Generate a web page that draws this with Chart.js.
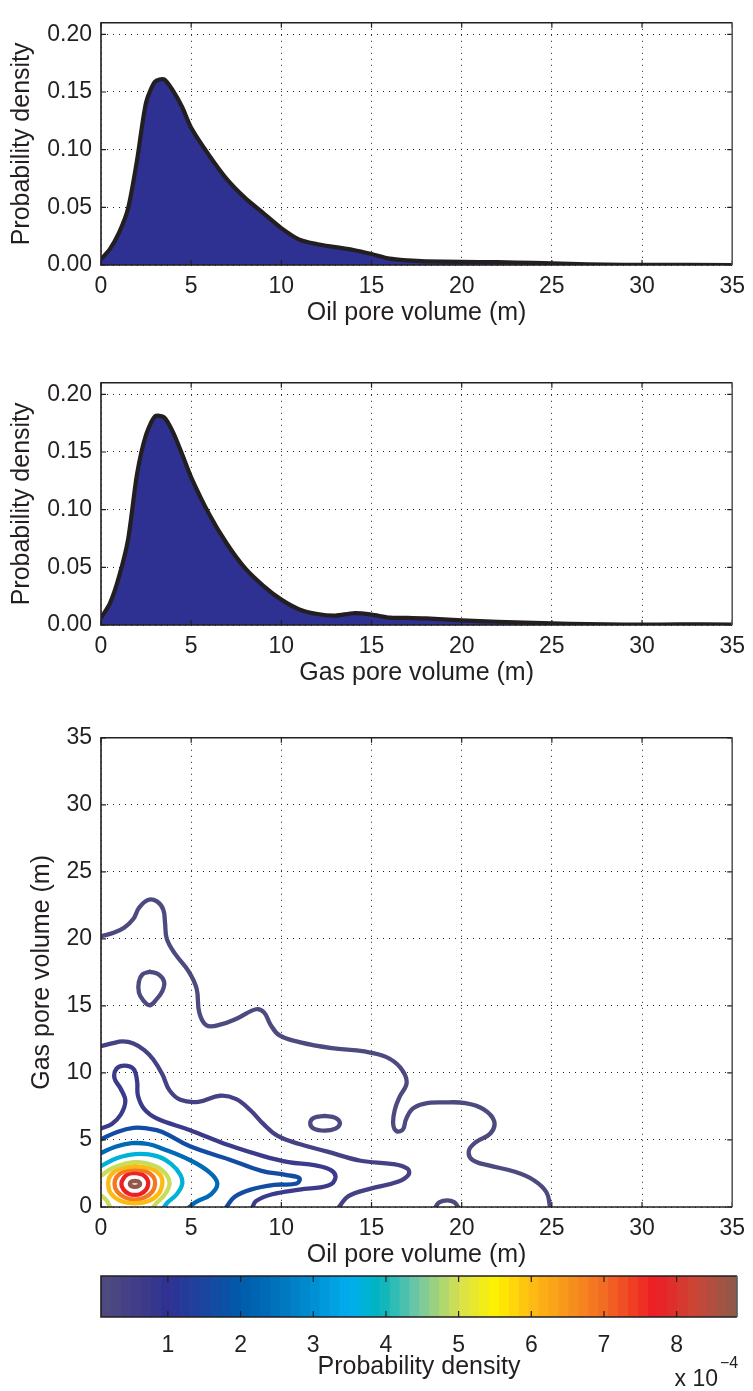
<!DOCTYPE html>
<html>
<head>
<meta charset="utf-8">
<script src="https://cdn.jsdelivr.net/npm/chart.js@4.4.0/dist/chart.umd.min.js"></script>
<style>
  html, body { margin: 0; padding: 0; background: #fff; }
  #page { position: relative; width: 753px; height: 1391px; overflow: hidden; }
  canvas { position: absolute; left: 0; }
</style>
</head>
<body>
<div id="page">
  <canvas id="oilChart" width="753" height="335" style="top:0px"></canvas>
  <canvas id="gasChart" width="753" height="335" style="top:360px"></canvas>
  <canvas id="jointChart" width="753" height="562" style="top:715px"></canvas>
  <canvas id="colorbar" width="753" height="126" style="top:1265px"></canvas>
</div>
<script>
// ---- marginal densities ----
var oilX = [0, 0.5, 1, 1.5, 2, 2.5, 3, 3.5, 4, 4.5, 5, 6, 7, 8, 9, 10, 11, 12, 13, 14, 15, 16, 17, 18, 20, 22, 24, 26, 28, 30, 35];
var oilDensity = [0.005, 0.014, 0.028, 0.049, 0.091, 0.141, 0.159, 0.161, 0.151, 0.137, 0.119, 0.095, 0.074, 0.058, 0.045, 0.032, 0.022, 0.018, 0.0155, 0.013, 0.0095, 0.0055, 0.004, 0.0032, 0.0027, 0.0025, 0.0018, 0.001, 0.0003, 0.0001, 0.0];

var gasX = [0, 0.5, 1, 1.5, 2, 2.5, 3, 3.5, 4, 4.5, 5, 6, 7, 8, 9, 10, 11, 12, 13, 14, 15, 16, 17, 18, 20, 22, 24, 26, 28, 30, 32, 35];
var gasDensity = [0.006, 0.019, 0.042, 0.074, 0.131, 0.165, 0.181, 0.180, 0.167, 0.148, 0.128, 0.096, 0.070, 0.049, 0.034, 0.022, 0.0135, 0.0095, 0.0081, 0.0102, 0.009, 0.0064, 0.0062, 0.0057, 0.004, 0.0028, 0.0019, 0.0011, 0.0005, 0.0003, 0.0006, 0.0004];

var poreTicks = [0, 5, 10, 15, 20, 25, 30, 35];
var densityTicks = [0, 0.05, 0.10, 0.15, 0.20];
var colorbarTicks = [1, 2, 3, 4, 5, 6, 7, 8];
var colorbarRange = [0.08, 8.83];   // x 10^-4

// ---- joint density contours: [oil, gas] points, level in x 10^-4 ----
var contourLevels = [0.2, 0.45, 0.75, 1.7, 2.4, 3.7, 5.0, 6.0, 6.8, 7.7, 8.8];

var level1Main = [[0,20.2],[0.7,20.45],[1.3,20.85],[1.8,21.5],[2.1,22.3],[2.6,22.9],[3.1,22.8],[3.45,22.2],[3.55,21.2],[3.65,20.0],[4.1,18.9],[4.85,17.6],[5.3,16.3],[5.45,14.5],[5.85,13.55],[6.6,13.6],[7.6,14.1],[8.6,14.75],[9.05,14.5],[9.4,13.6],[9.9,12.8],[11.0,12.3],[12.8,11.85],[14.6,11.6],[15.8,11.2],[16.6,10.4],[16.95,9.3],[16.55,8.2],[16.3,7.3],[16.2,6.2],[16.4,5.65],[16.75,5.8],[16.9,6.5],[17.25,7.3],[17.9,7.7],[19.0,7.8],[20.2,7.75],[21.2,7.3],[21.8,6.4],[21.6,5.5],[20.8,4.85],[20.4,4.2],[20.6,3.5],[21.5,3.1],[22.9,2.65],[24.0,2.0],[24.7,1.1],[24.9,0]];
var level1North = [[2.7,17.55],[3.2,17.35],[3.5,16.8],[3.4,16.1],[3.05,15.45],[2.7,15.05],[2.35,15.4],[2.1,16.0],[2.1,16.8],[2.3,17.35],[2.7,17.55]];
var level1East = [[12.4,6.8],[13.0,6.65],[13.25,6.25],[13.0,5.85],[12.4,5.7],[11.8,5.85],[11.6,6.25],[11.8,6.65],[12.4,6.8]];
var level1Bump = [[18.55,0],[18.75,0.35],[19.2,0.5],[19.6,0.35],[19.8,0]];
var level2 = [[0,12.0],[0.6,12.2],[1.2,12.35],[1.8,12.2],[2.4,11.7],[2.9,11.0],[3.4,9.9],[3.8,8.7],[4.4,8.0],[5.4,7.85],[6.6,8.3],[7.5,8.05],[8.3,7.2],[9.0,6.2],[9.8,5.3],[11.0,4.7],[12.5,4.15],[14.4,3.45],[16.2,3.2],[17.0,2.85],[17.05,2.4],[16.5,1.9],[14.9,1.35],[13.7,0.8],[13.2,0]];
var level3 = [[0,5.86],[0.6,6.2],[1.1,6.9],[1.35,7.9],[1.1,8.8],[0.75,9.6],[0.85,10.3],[1.3,10.55],[1.8,10.3],[2.0,9.4],[2.05,8.3],[2.4,7.3],[3.1,6.6],[4.9,5.75],[7.1,4.6],[9.0,3.8],[10.4,3.35],[11.9,3.1],[12.75,2.75],[13.0,2.2],[12.6,1.6],[11.0,1.3],[9.5,0.95],[8.6,0.45],[8.4,0]];
var level4 = [[0,5.05],[0.9,5.6],[1.8,5.9],[2.6,5.85],[3.4,5.6],[4.9,4.55],[7.1,3.55],[8.9,2.7],[10.3,2.38],[11.0,2.15],[10.85,1.75],[9.6,1.65],[8.3,1.3],[7.4,0.75],[6.95,0]];
var level5 = [[0,4.03],[0.8,4.5],[1.7,4.76],[2.6,4.7],[3.4,4.35],[5.0,3.45],[6.0,2.6],[6.45,1.75],[6.1,0.95],[5.3,0.4],[4.9,0]];
var level6 = [[0,3.05],[0.9,3.65],[1.9,3.95],[3.1,3.8],[3.9,3.2],[4.4,2.4],[4.5,1.7],[4.2,0.95],[3.7,0.35],[3.5,0]];
var level7Main = [[0,2.33],[0.7,2.95],[1.9,3.35],[3.0,3.05],[3.6,2.45],[3.8,1.75],[3.55,0.95],[3.15,0.4],[2.9,0]];
var level7Corner = [[0,0.87],[0.3,0.5],[0.5,0]];
var level8 = [[1.9,3.05],[2.8,2.85],[3.3,2.35],[3.4,1.75],[3.2,1.0],[2.65,0.45],[1.9,0.28],[1.1,0.45],[0.55,1.0],[0.4,1.75],[0.55,2.4],[1.05,2.85],[1.9,3.05]];
var level9 = [[1.88,2.8],[2.5,2.65],[2.9,2.25],[3.0,1.72],[2.85,1.15],[2.4,0.7],[1.88,0.55],[1.35,0.7],[0.9,1.15],[0.75,1.72],[0.9,2.3],[1.3,2.65],[1.88,2.8]];
var level10 = [[1.88,2.55],[2.3,2.42],[2.55,2.1],[2.62,1.72],[2.5,1.3],[2.2,0.98],[1.88,0.9],[1.55,0.98],[1.25,1.3],[1.13,1.72],[1.25,2.15],[1.5,2.45],[1.88,2.55]];
var level11 = [[1.88,1.95],[2.1,1.88],[2.17,1.72],[2.1,1.57],[1.88,1.5],[1.66,1.57],[1.6,1.72],[1.66,1.88],[1.88,1.95]];

var contourPaths = [
  [0, level1Main], [0, level1North], [0, level1East], [0, level1Bump],
  [1, level2], [2, level3], [3, level4], [4, level5], [5, level6],
  [6, level7Main], [6, level7Corner], [7, level8], [8, level9], [9, level10], [10, level11]
];

// ---- colour map of the colour bar ----
var colormapStops = [[0.08,'#4e4c7e'],[0.5,'#433f87'],[1.0,'#2e3192'],[1.5,'#1b45a0'],[2.0,'#005baa'],[2.5,'#0072bc'],[3.0,'#0090d4'],[3.5,'#00aeef'],[3.9,'#00b5bf'],[4.4,'#6cc5a6'],[5.0,'#d6e050'],[5.5,'#fff200'],[6.0,'#fdbb13'],[6.5,'#f7941d'],[7.0,'#f26b23'],[7.7,'#ed1c24'],[8.2,'#cf4334'],[8.83,'#8b5a4b']];
var nBands = 64;

function hexRgb(h) { return [parseInt(h.substr(1,2),16), parseInt(h.substr(3,2),16), parseInt(h.substr(5,2),16)]; }
function mapColor(v) {
  for (var i = 1; i < colormapStops.length; i++) {
    if (v <= colormapStops[i][0]) {
      var a = colormapStops[i-1], b = colormapStops[i];
      var t = (v - a[0]) / (b[0] - a[0]);
      var ca = hexRgb(a[1]), cb = hexRgb(b[1]);
      return 'rgb(' + ca.map(function (c, k) { return Math.round(c + (cb[k] - c) * t); }).join(',') + ')';
    }
  }
  return colormapStops[colormapStops.length-1][1];
}
function bandColor(v) {
  var w = (colorbarRange[1] - colorbarRange[0]) / nBands;
  var i = Math.min(nBands - 1, Math.max(0, Math.floor((v - colorbarRange[0]) / w)));
  return mapColor(colorbarRange[0] + (i + 0.5) * w);
}

var INK = '#231f20';
var FONT = "'Liberation Sans', Arial, sans-serif";
var TICK_SIZE = 23, TITLE_SIZE = 25;
Chart.defaults.font.family = FONT;
Chart.defaults.color = INK;

// box + inward tick marks, matlab style
var framePlugin = {
  id: 'frame',
  afterDatasetsDraw: function (chart, args, opts) {
    var a = chart.chartArea, ctx = chart.ctx, len = opts.len || 5;
    ctx.save();
    ctx.strokeStyle = INK;
    ctx.lineWidth = 1.2;
    (opts.axes || ['x', 'y']).forEach(function (id) {
      var s = chart.scales[id];
      s.ticks.forEach(function (t) {
        var p = s.getPixelForValue(t.value);
        ctx.beginPath();
        if (s.isHorizontal()) {
          ctx.moveTo(p, a.bottom); ctx.lineTo(p, a.bottom - len);
          ctx.moveTo(p, a.top); ctx.lineTo(p, a.top + len);
        } else {
          ctx.moveTo(a.left, p); ctx.lineTo(a.left + len, p);
          ctx.moveTo(a.right, p); ctx.lineTo(a.right - len, p);
        }
        ctx.stroke();
      });
    });
    ctx.lineWidth = 1.6;
    ctx.beginPath();
    ctx.moveTo(a.right, a.top); ctx.lineTo(a.left, a.top); ctx.lineTo(a.left, a.bottom); ctx.lineTo(a.right, a.bottom);
    ctx.stroke();
    ctx.strokeStyle = '#5a5a5a';
    ctx.beginPath();
    ctx.moveTo(a.right, a.top); ctx.lineTo(a.right, a.bottom);
    ctx.stroke();
    ctx.restore();
  }
};

function fixTicks(list) {
  return function (scale) { scale.ticks = list.map(function (v) { return { value: v }; }); };
}

function dottedGrid() {
  return { color: INK, lineWidth: 1, drawTicks: false };
}

function poreAxisX(title) {
  return {
    type: 'linear', min: 0, max: 35,
    afterBuildTicks: fixTicks(poreTicks),
    afterFit: function (s) { s.height = 70; },
    grid: dottedGrid(),
    border: { display: false, dash: [1, 5] },
    ticks: { padding: 8, font: { size: TICK_SIZE }, maxRotation: 0 },
    title: { display: true, text: title, font: { size: TITLE_SIZE }, padding: { top: 0, bottom: 7 } }
  };
}

function densityPanel(canvasId, xs, ys, xTitle) {
  var pts = xs.map(function (x, i) { return { x: x, y: ys[i] }; });
  return new Chart(document.getElementById(canvasId), {
    type: 'line',
    data: {
      datasets: [{
        data: pts,
        borderColor: INK,
        borderWidth: 4.2,
        backgroundColor: '#2e3192',
        fill: 'origin',
        pointRadius: 0,
        tension: 0.25,
        borderJoinStyle: 'round'
      }]
    },
    options: {
      responsive: false,
      animation: false,
      devicePixelRatio: 1,
      layout: { padding: { top: 10, right: 16, left: 0, bottom: 0 } },
      plugins: { legend: { display: false }, tooltip: { enabled: false }, frame: { len: 5 } },
      scales: {
        x: poreAxisX(xTitle),
        y: {
          type: 'linear', min: 0, max: 0.21,
          afterBuildTicks: fixTicks(densityTicks),
          afterFit: function (s) { s.width = 101; },
          grid: dottedGrid(),
          border: { display: false, dash: [1, 5] },
          ticks: { padding: 9, font: { size: TICK_SIZE }, callback: function (v) { return v.toFixed(2); } },
          title: { display: true, text: 'Probability density', font: { size: TITLE_SIZE }, padding: { top: 7, bottom: 0 } }
        }
      }
    },
    plugins: [framePlugin]
  });
}

densityPanel('oilChart', oilX, oilDensity, 'Oil pore volume (m)');
densityPanel('gasChart', gasX, gasDensity, 'Gas pore volume (m)');

// joint density contour plot
new Chart(document.getElementById('jointChart'), {
  type: 'scatter',
  data: {
    datasets: contourPaths.map(function (c) {
      return {
        data: c[1].map(function (p) { return { x: p[0], y: p[1] }; }),
        showLine: true,
        borderColor: bandColor(contourLevels[c[0]]),
        borderWidth: 4.3,
        pointRadius: 0,
        tension: 0.4,
        borderCapStyle: 'round',
        borderJoinStyle: 'round',
        fill: false
      };
    })
  },
  options: {
    responsive: false,
    animation: false,
    devicePixelRatio: 1,
    layout: { padding: { top: 12, right: 16, left: 0, bottom: 0 } },
    plugins: { legend: { display: false }, tooltip: { enabled: false }, frame: { len: 5 } },
    scales: {
      x: poreAxisX('Oil pore volume (m)'),
      y: {
        type: 'linear', min: 0, max: 35,
        afterBuildTicks: fixTicks(poreTicks),
        afterFit: function (s) { s.width = 101; },
        grid: dottedGrid(),
        border: { display: false, dash: [1, 5] },
        ticks: { padding: 9, font: { size: TICK_SIZE } },
        title: { display: true, text: 'Gas pore volume (m)', font: { size: TITLE_SIZE }, padding: { top: 27, bottom: 0 } }
      }
    }
  },
  plugins: [framePlugin]
});

// colour bar
var bandW = (colorbarRange[1] - colorbarRange[0]) / nBands;
var bandDatasets = [];
for (var i = 0; i < nBands; i++) {
  var lo = colorbarRange[0] + i * bandW;
  bandDatasets.push({
    data: [[lo, lo + bandW]],
    backgroundColor: mapColor(lo + bandW / 2),
    borderWidth: 0,
    barPercentage: 1,
    categoryPercentage: 1,
    grouped: false
  });
}

var exponentPlugin = {
  id: 'exponent',
  afterDraw: function (chart) {
    var a = chart.chartArea, ctx = chart.ctx;
    ctx.save();
    ctx.fillStyle = INK;
    ctx.textBaseline = 'middle';
    ctx.textAlign = 'right';
    ctx.font = '23px ' + FONT;
    ctx.fillText('x 10', a.right - 19, 115);
    ctx.textAlign = 'left';
    ctx.font = '16px ' + FONT;
    ctx.fillText('\u22124', a.right - 17, 99);
    ctx.restore();
  }
};

new Chart(document.getElementById('colorbar'), {
  type: 'bar',
  data: { labels: ['density'], datasets: bandDatasets },
  options: {
    indexAxis: 'y',
    responsive: false,
    animation: false,
    devicePixelRatio: 1,
    layout: { padding: { top: 11, right: 16, left: 101, bottom: 0 } },
    plugins: { legend: { display: false }, tooltip: { enabled: false }, frame: { len: 6, axes: ['x'] } },
    scales: {
      x: {
        type: 'linear', min: colorbarRange[0], max: colorbarRange[1],
        afterBuildTicks: fixTicks(colorbarTicks),
        afterFit: function (s) { s.height = 74; },
        grid: { display: false },
        border: { display: false },
        ticks: { padding: 7, font: { size: TICK_SIZE } },
        title: { display: true, text: 'Probability density', font: { size: TITLE_SIZE }, padding: { top: 0, bottom: 9 } }
      },
      y: { type: 'category', display: false }
    }
  },
  plugins: [framePlugin, exponentPlugin]
});
</script>
</body>
</html>
